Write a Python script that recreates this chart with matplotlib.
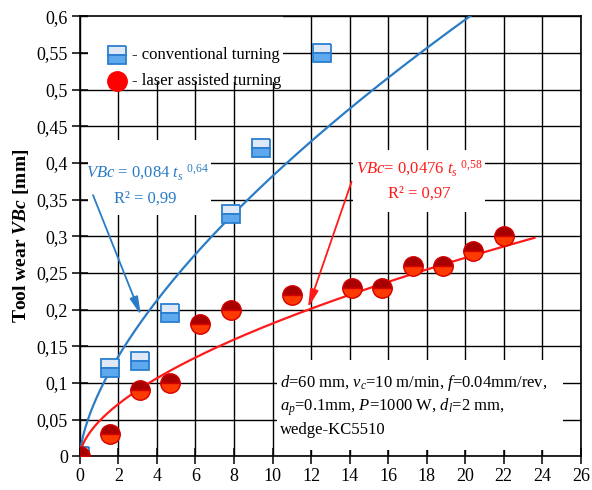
import numpy as np
import matplotlib
matplotlib.use('Agg')
import matplotlib.pyplot as plt
from matplotlib.patches import Rectangle
from matplotlib.ticker import FuncFormatter, MultipleLocator

plt.rcParams['font.family'] = ['Liberation Serif', 'DejaVu Serif']
plt.rcParams['mathtext.fontset'] = 'custom'
plt.rcParams['mathtext.rm'] = 'Liberation Serif'
plt.rcParams['mathtext.it'] = 'Liberation Serif:italic'
plt.rcParams['mathtext.bf'] = 'Liberation Serif:bold'
plt.rcParams['mathtext.bfit'] = 'Liberation Serif:bold:italic'

# measured tool wear, conventional turning
t_conv = [0, 1.55, 3.1, 4.7, 7.85, 9.4, 12.55]
vb_conv = [0, 0.12, 0.13, 0.195, 0.33, 0.42, 0.55]

# measured tool wear, laser assisted turning
t_laser = [0, 1.55, 3.1, 4.7, 6.25, 7.85, 11.0, 14.15, 15.7, 17.3, 18.85, 20.4, 22.0]
vb_laser = [0, 0.03, 0.09, 0.10, 0.18, 0.20, 0.22, 0.23, 0.23, 0.26, 0.26, 0.28, 0.30]

# power trend lines VBc = a * t^b (as drawn)
conv_a, conv_b, conv_tmax = 0.0875, 0.64, 21.0
laser_a, laser_b, laser_tmax = 0.0476, 0.58, 23.6

blue = '#2a7cc6'
red = '#ff1a1a'

fig, ax = plt.subplots(1, 1, figsize=(5.92, 4.9), dpi=100)
plt.subplots_adjust(left=0.135, right=0.981, top=0.967, bottom=0.069)

ax.set_xlim(0, 26)
ax.set_ylim(0, 0.6)
ax.xaxis.set_major_locator(MultipleLocator(2))
ax.yaxis.set_major_locator(MultipleLocator(0.05))
ax.yaxis.set_major_formatter(FuncFormatter(lambda v, p: ('%g' % round(v, 3)).replace('.', ',')))
ax.grid(True, color='k', linewidth=1.0, zorder=0)
ax.set_axisbelow(True)
for s in ax.spines.values():
    s.set_linewidth(1.2)
ax.tick_params(direction='inout', length=11, width=1.1, labelsize=13, pad=3)

ax.set_ylabel(r'Tool wear $\mathbfit{VBc}$ [mm]', fontsize=14, fontweight='bold', labelpad=4)

# white boxes hiding the grid behind texts
for (x0, y0, w, h) in [(0.016, 0.85, 0.39, 0.15),
                       (0.016, 0.548, 0.245, 0.17),
                       (0.545, 0.555, 0.263, 0.14),
                       (0.393, 0.0136, 0.571, 0.205)]:
    ax.add_patch(Rectangle((x0, y0), w, h, transform=ax.transAxes,
                           facecolor='white', edgecolor='none', zorder=1))

# trend lines
tc = np.linspace(0, conv_tmax, 300)
ax.plot(tc, conv_a * tc ** conv_b, color=blue, linewidth=1.6, zorder=3)
tl = np.linspace(0, laser_tmax, 300)
ax.plot(tl, laser_a * tl ** laser_b, color=red, linewidth=1.6, zorder=3)

# data points
ax.plot(t_conv, vb_conv, linestyle='none', marker='s', markersize=13,
        fillstyle='top', markerfacecolor='#dfe8f6', markerfacecoloralt='#5ea8ee',
        markeredgecolor='#2a7fd0', markeredgewidth=1.3, zorder=4)
ax.plot(t_laser, vb_laser, linestyle='none', marker='o', markersize=14,
        fillstyle='top', markerfacecolor='#a80000', markerfacecoloralt='#ff3a00',
        markeredgecolor='#d40000', markeredgewidth=1.0, zorder=5)

# legend
ax.plot([1.95], [0.5475], marker='s', markersize=13,
        fillstyle='top', markerfacecolor='#dfe8f6', markerfacecoloralt='#5ea8ee',
        markeredgecolor='#2a7fd0', markeredgewidth=1.3, linestyle='none', zorder=6)
ax.plot([1.95], [0.511], marker='o', markersize=14, color='#ff0000',
        linestyle='none', zorder=6)
ax.text(2.7, 0.5475, '- conventional turning', fontsize=12, va='center', zorder=6)
ax.text(2.7, 0.511, '- laser assisted turning', fontsize=12, va='center', zorder=6)

# equations
ax.text(3.5, 0.387, r'$VBc$ = 0,084 $t_s$ $^{0{,}64}$', color=blue, fontsize=12,
        ha='center', va='center', zorder=6)
ax.text(3.4, 0.351, 'R\u00b2 = 0,99', color=blue, fontsize=12,
        ha='center', va='center', zorder=6)
ax.text(17.6, 0.393, r'$VBc$= 0,0476 $t_s$ $^{0{,}58}$', color=red, fontsize=12,
        ha='center', va='center', zorder=6)
ax.text(17.6, 0.358, 'R\u00b2 = 0,97', color=red, fontsize=12,
        ha='center', va='center', zorder=6)

ax.annotate('', xy=(3.17, 0.192), xytext=(0.68, 0.356),
            arrowprops=dict(arrowstyle='-|>,head_length=1.1,head_width=0.25',
                            color=blue, lw=1.3, shrinkA=0, shrinkB=0), zorder=6)
ax.annotate('', xy=(11.84, 0.202), xytext=(14.1, 0.374),
            arrowprops=dict(arrowstyle='-|>,head_length=1.1,head_width=0.25',
                            color=red, lw=1.3, shrinkA=0, shrinkB=0), zorder=6)

# cutting conditions
ax.text(10.4, 0.1, r'$d$=60 mm, $v_c$=10 m/min, $f$=0.04mm/rev,', fontsize=12,
        va='center', zorder=6)
ax.text(10.4, 0.067, r'$a_p$=0.1mm, $P$=1000 W, $d_l$=2 mm,', fontsize=12,
        va='center', zorder=6)
ax.text(10.4, 0.036, 'wedge-KC5510', fontsize=12, va='center', zorder=6)

plt.savefig('out.png', dpi=100)
